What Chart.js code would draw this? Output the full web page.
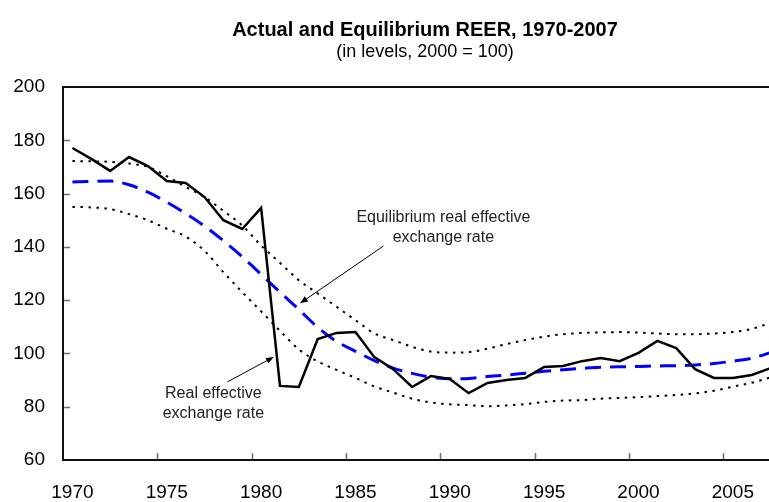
<!DOCTYPE html>
<html>
<head>
<meta charset="utf-8">
<script src="https://cdn.jsdelivr.net/npm/chart.js@4/dist/chart.umd.min.js"></script>
<style>
  html, body { margin: 0; padding: 0; background: #fff; overflow: hidden; }
  #wrap { width: 850px; height: 502px; }
</style>
</head>
<body>
<div id="wrap"><canvas id="reer" width="850" height="502"></canvas></div>
<script>
// years on the category axis
const years = [];
for (let y = 1970; y <= 2007; y++) years.push(String(y));

// actual real effective exchange rate (solid black)
const actual = [177.1, 173.0, 168.5, 173.7, 170.3, 164.7, 164.0, 158.7, 150.0, 146.7,
  154.6, 87.8, 87.4, 105.4, 107.7, 108.0, 98.6, 94.1, 87.4, 91.5,
  90.4, 85.1, 88.9, 90.0, 90.8, 94.9, 95.3, 97.1, 98.3, 97.1,
  100.2, 104.7, 102.0, 94.1, 90.8, 90.8, 91.9, 94.5];

// equilibrium REER (blue dashed)
const equilibrium = [164.3, 164.6, 164.7, 163.3, 160.5, 156.8, 152.5, 147.8, 142.3, 136.3,
  129.7, 123.0, 116.5, 109.8, 104.5, 100.8, 97.3, 94.5, 92.5, 91.1,
  90.5, 90.6, 91.3, 91.9, 92.6, 93.3, 93.9, 94.4, 94.8, 95.0,
  95.1, 95.3, 95.4, 95.7, 96.2, 97.1, 98.2, 100.3];

// confidence bands (dotted)
const upperBand = [172.2, 172.1, 171.9, 171.3, 170.0, 166.5, 162.5, 158.7, 153.5, 148.0,
  140.5, 134.0, 127.5, 122.5, 117.5, 112.5, 107.5, 105.0, 102.5, 100.7,
  100.3, 100.5, 101.8, 103.5, 105.0, 106.3, 107.2, 107.7, 107.9, 108.0,
  107.8, 107.5, 107.2, 107.2, 107.5, 108.0, 109.2, 111.5];
const lowerBand = [155.0, 154.8, 154.2, 152.3, 150.0, 146.8, 143.9, 138.5, 130.5, 123.0,
  115.8, 108.5, 101.5, 97.0, 93.8, 90.8, 87.6, 85.3, 83.0, 81.6,
  80.9, 80.6, 80.2, 80.5, 81.0, 81.8, 82.3, 82.5, 83.0, 83.3,
  83.6, 84.0, 84.4, 85.0, 86.0, 87.5, 89.0, 91.0];

const yTicks = [60, 80, 100, 120, 140, 160, 180, 200];

// annotations in data coordinates (category index, value)
const notes = [
  { lines: ['Equilibrium real effective', 'exchange rate'], at: [19.66, 150.8], from: [16.48, 140.3], to: [12.08, 118.9] },
  { lines: ['Real effective', 'exchange rate'], at: [7.47, 84.8], from: [8.21, 89.3], to: [10.65, 98.6] }
];

const FONT = '"Liberation Sans", Arial, sans-serif';

const framePlugin = {
  id: 'frame',
  afterDatasetsDraw(chart) {
    const { ctx, chartArea: a, scales: { x, y } } = chart;
    ctx.save();
    // inward tick marks
    ctx.strokeStyle = '#6e6e6e';
    ctx.lineWidth = 1.5;
    yTicks.forEach(v => {
      if (v === 60 || v === 200) return;
      const py = Math.round(y.getPixelForValue(v)) + 0.5;
      ctx.beginPath(); ctx.moveTo(a.left, py); ctx.lineTo(a.left + 7, py); ctx.stroke();
    });
    const half = (x.getPixelForValue(1) - x.getPixelForValue(0)) / 2;
    years.forEach((yr, i) => {
      if (i === 0 || Number(yr) % 5 !== 0) return;
      const px = Math.round(x.getPixelForValue(i) - half) + 0.5;
      ctx.beginPath(); ctx.moveTo(px, a.bottom); ctx.lineTo(px, a.bottom - 7); ctx.stroke();
    });
    // frame: top, left, bottom
    ctx.strokeStyle = '#111';
    ctx.lineWidth = 2;
    ctx.beginPath();
    ctx.moveTo(a.right, a.top); ctx.lineTo(a.left, a.top);
    ctx.lineTo(a.left, a.bottom); ctx.lineTo(a.right, a.bottom);
    ctx.stroke();

    // annotations
    ctx.font = '16px ' + FONT;
    ctx.textAlign = 'center';
    ctx.textBaseline = 'middle';
    notes.forEach(n => {
      ctx.fillStyle = '#222';
      const cx = x.getPixelForValue(n.at[0]);
      const cy = y.getPixelForValue(n.at[1]);
      n.lines.forEach((t, k) => ctx.fillText(t, cx, cy + k * 19.5));
      const x1 = x.getPixelForValue(n.from[0]), y1 = y.getPixelForValue(n.from[1]);
      const x2 = x.getPixelForValue(n.to[0]), y2 = y.getPixelForValue(n.to[1]);
      ctx.strokeStyle = '#000';
      ctx.lineWidth = 1;
      ctx.beginPath(); ctx.moveTo(x1, y1); ctx.lineTo(x2, y2); ctx.stroke();
      const ang = Math.atan2(y2 - y1, x2 - x1);
      ctx.beginPath();
      ctx.moveTo(x2, y2);
      ctx.lineTo(x2 - 8 * Math.cos(ang - 0.4), y2 - 8 * Math.sin(ang - 0.4));
      ctx.lineTo(x2 - 8 * Math.cos(ang + 0.4), y2 - 8 * Math.sin(ang + 0.4));
      ctx.closePath();
      ctx.fillStyle = '#000';
      ctx.fill();
    });
    ctx.restore();
  }
};

const ctx = document.getElementById('reer').getContext('2d');
new Chart(ctx, {
  type: 'line',
  data: {
    labels: years,
    datasets: [
      { label: 'Real effective exchange rate', data: actual, borderColor: '#000', borderWidth: 2.5,
        pointRadius: 0, tension: 0, order: 0 },
      { label: 'Equilibrium real effective exchange rate', data: equilibrium, borderColor: '#0000ff', borderWidth: 3,
        borderDash: [16, 9], pointRadius: 0, cubicInterpolationMode: 'monotone', order: 1 },
      { label: 'Upper band', data: upperBand, borderColor: '#000', borderWidth: 2,
        borderDash: [2.5, 5.5], pointRadius: 0, cubicInterpolationMode: 'monotone', order: 2 },
      { label: 'Lower band', data: lowerBand, borderColor: '#000', borderWidth: 2,
        borderDash: [2.5, 5.5], pointRadius: 0, cubicInterpolationMode: 'monotone', order: 2 }
    ]
  },
  options: {
    responsive: false,
    animation: false,
    layout: { padding: 0 },
    plugins: {
      legend: { display: false },
      tooltip: { enabled: false },
      title: {
        display: true,
        text: 'Actual and Equilibrium REER, 1970-2007',
        color: '#000',
        font: { family: FONT, size: 20, weight: 'bold', lineHeight: 1.1 },
        padding: { top: 19, bottom: 0 }
      },
      subtitle: {
        display: true,
        text: '(in levels, 2000 = 100)',
        color: '#000',
        font: { family: FONT, size: 18, weight: 'normal', lineHeight: 1.2 },
        padding: { top: 0, bottom: 24.4 }
      }
    },
    scales: {
      x: {
        type: 'category',
        offset: true,
        grid: { display: false, drawTicks: false },
        border: { display: false },
        ticks: {
          autoSkip: false, maxRotation: 0, padding: 21,
          color: '#000', font: { family: FONT, size: 19 },
          callback: (v, i) => (Number(years[i]) % 5 === 0 ? years[i] : '')
        },
        afterFit: s => { s.height = 42; }
      },
      y: {
        min: 60, max: 200,
        grid: { display: false, drawTicks: false },
        border: { display: false },
        ticks: { stepSize: 20, padding: 18, color: '#000', font: { family: FONT, size: 19 } },
        afterFit: s => { s.width = 63; }
      },
      // empty right-hand box that keeps the plot's right edge past the visible crop
      spacer: {
        position: 'right',
        display: true,
        grid: { display: false, drawTicks: false },
        border: { display: false },
        ticks: { display: false },
        afterFit: s => { s.width = 70; }
      }
    }
  },
  plugins: [framePlugin]
});
</script>
</body>
</html>
